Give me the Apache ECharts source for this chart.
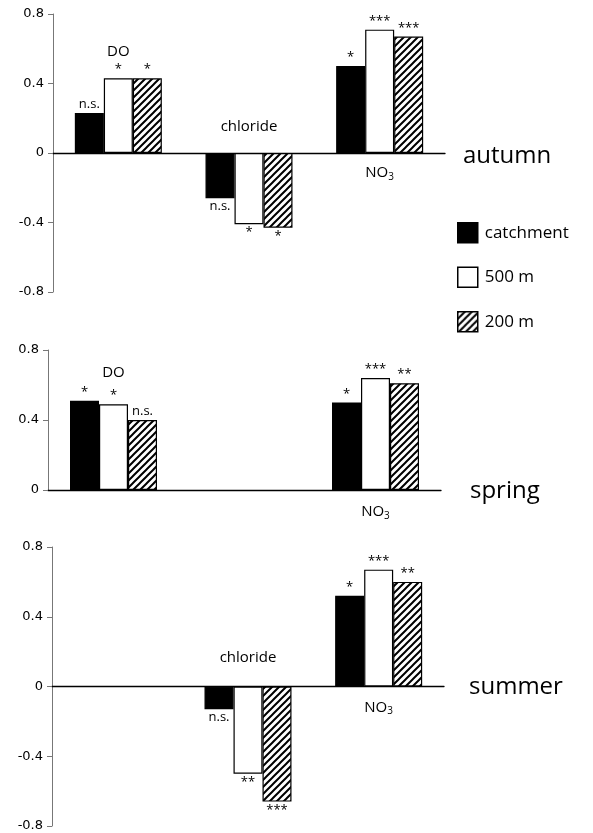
<!DOCTYPE html>
<html>
<head>
<meta charset="utf-8">
<script src="https://cdn.jsdelivr.net/npm/echarts@6/dist/echarts.min.js"></script>
<style>
  html, body { margin: 0; padding: 0; background: #fff; }
  #chart { width: 593px; height: 833px; }
</style>
</head>
<body>
<div id="chart"></div>
<script>
// categories and series
var categories = ['DO', 'chloride', 'NO3']
var seasons = ['autumn', 'spring', 'summer']
var seriesNames = ['catchment', '500 m', '200 m']

// correlation values (null = not shown)
var autumnCatchment = [0.23, -0.26, 0.50]
var autumn500 = [0.43, -0.41, 0.71]
var autumn200 = [0.43, -0.43, 0.67]
var springCatchment = [0.51, null, 0.50]
var spring500 = [0.49, null, 0.64]
var spring200 = [0.40, null, 0.61]
var summerCatchment = [null, -0.13, 0.52]
var summer500 = [null, -0.50, 0.67]
var summer200 = [null, -0.66, 0.60]

// significance marks
var autumnSigCatchment = ['n.s.', 'n.s.', '*']
var autumnSig500 = ['*', '*', '***']
var autumnSig200 = ['*', '*', '***']
var springSigCatchment = ['*', '', '*']
var springSig500 = ['*', '', '***']
var springSig200 = ['n.s.', '', '**']
var summerSigCatchment = ['', 'n.s.', '*']
var summerSig500 = ['', '**', '***']
var summerSig200 = ['', '***', '**']

// y value where each category name sits (null = no name)
var autumnNameY = [0.58, 0.15, -0.115]
var springNameY = [0.67, null, -0.125]
var summerNameY = [null, 0.167, -0.12]

// y axis ranges and ticks
var yMins = [-0.8, 0, -0.8]
var yMax = 0.8
var yStep = 0.4

var values = [
  [autumnCatchment, autumn500, autumn200],
  [springCatchment, spring500, spring200],
  [summerCatchment, summer500, summer200]
]
var sigs = [
  [autumnSigCatchment, autumnSig500, autumnSig200],
  [springSigCatchment, springSig500, springSig200],
  [summerSigCatchment, summerSig500, summerSig200]
]
var nameYs = [autumnNameY, springNameY, summerNameY]

var grids = [
  { left: 53, top: 14, width: 392, height: 278 },
  { left: 48, top: 350, width: 393, height: 140 },
  { left: 52, top: 547, width: 392, height: 279 }
]
var seasonPos = [
  { left: 463, top: 144 },
  { left: 470, top: 479 },
  { left: 469, top: 675 }
]

// diagonal hatching for the 200 m bars
function makeHatch() {
  var c = document.createElement('canvas')
  c.width = 7
  c.height = 7
  var ctx = c.getContext('2d')
  ctx.fillStyle = '#fff'
  ctx.fillRect(0, 0, 7, 7)
  ctx.strokeStyle = '#000'
  ctx.lineWidth = 2
  ctx.beginPath()
  ctx.moveTo(-1, 8); ctx.lineTo(8, -1)
  ctx.moveTo(-1, 1); ctx.lineTo(1, -1)
  ctx.moveTo(6, 8); ctx.lineTo(8, 6)
  ctx.stroke()
  return c
}
var hatch = { image: makeHatch(), repeat: 'repeat' }
var fills = ['#000', '#fff', hatch]

var font = 'Open Sans'
var myChart = echarts.init(document.getElementById('chart'))

var xAxes = [], yAxes = [], series = []
grids.forEach(function (g, s) {
  xAxes.push({
    type: 'category',
    gridIndex: s,
    data: categories,
    axisLine: { onZero: true, lineStyle: { color: '#000', width: 1.3 } },
    axisTick: { show: false },
    axisLabel: { show: false }
  })
  yAxes.push({
    type: 'value',
    gridIndex: s,
    min: yMins[s],
    max: yMax,
    interval: yStep,
    splitLine: { show: false },
    axisLine: { show: true, lineStyle: { color: '#777', width: 1 } },
    axisTick: { show: true, length: 5, lineStyle: { color: '#777' } },
    axisLabel: {
      color: '#000',
      fontSize: 13,
      fontFamily: 'DejaVu Sans',
      margin: 9,
      formatter: function (v) { return v === 0 ? '0' : v.toFixed(1) }
    }
  })
  seriesNames.forEach(function (name, k) {
    series.push({
      name: name,
      type: 'bar',
      xAxisIndex: s,
      yAxisIndex: s,
      barWidth: 29,
      barGap: '0%',
      data: values[s][k].map(function (v) {
        if (v === null) return null
        return { value: v, label: { position: v >= 0 ? 'top' : 'bottom' } }
      }),
      itemStyle: { color: fills[k], borderColor: '#000', borderWidth: 1.2 },
      label: {
        show: true,
        distance: 2,
        fontSize: 13,
        fontFamily: font,
        color: '#000',
        formatter: function (p) { return sigs[s][k][p.dataIndex] }
      },
      emphasis: { disabled: true }
    })
  })
  // category names
  var names = []
  nameYs[s].forEach(function (y, i) {
    if (y !== null) names.push([i, y])
  })
  series.push({
    type: 'scatter',
    xAxisIndex: s,
    yAxisIndex: s,
    symbolSize: 0,
    clip: false,
    silent: true,
    itemStyle: { opacity: 1 },
    data: names,
    label: {
      show: true,
      position: 'inside',
      opacity: 1,
      fontFamily: font,
      fontSize: 15,
      color: '#000',
      formatter: function (p) {
        var c = categories[p.data[0]]
        return c === 'NO3' ? '{m|NO}{s|3}' : c
      },
      rich: {
        m: { fontSize: 15, fontFamily: font, color: '#000', verticalAlign: 'middle' },
        s: { fontSize: 10, fontFamily: font, color: '#000', padding: [8, 0, 0, 0] }
      }
    }
  })
})

var option = {
  animation: false,
  backgroundColor: '#fff',
  title: seasons.map(function (t, s) {
    return {
      text: t,
      left: seasonPos[s].left,
      top: seasonPos[s].top,
      padding: 0,
      textStyle: { fontFamily: font, fontSize: 24, fontWeight: 'normal', color: '#000' }
    }
  }),
  legend: {
    data: seriesNames,
    orient: 'vertical',
    left: 457,
    top: 222,
    padding: 0,
    itemWidth: 20,
    itemHeight: 20,
    itemGap: 23,
    icon: 'rect',
    selectedMode: false,
    itemStyle: { borderColor: '#000', borderWidth: 1.5 },
    textStyle: { fontFamily: font, fontSize: 17, color: '#000', padding: [0, 0, 0, 2] }
  },
  grid: grids,
  xAxis: xAxes,
  yAxis: yAxes,
  series: series
}

myChart.setOption(option)
</script>
</body>
</html>
